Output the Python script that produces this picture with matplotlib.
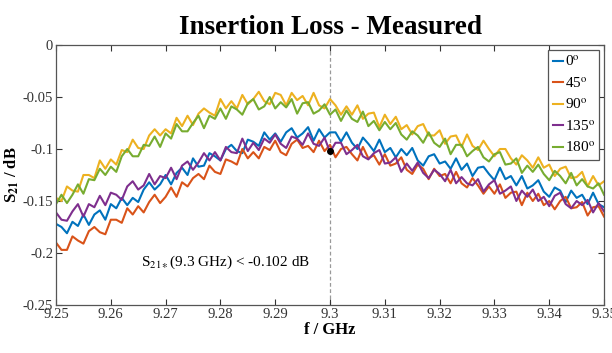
import numpy as np
import matplotlib
matplotlib.use("Agg")
import matplotlib.pyplot as plt

# frequency axis (GHz), one sample every 1 MHz
f_start, f_step, n_pts = 9.25, 0.001, 101

# S21 traces in milli-dB
s21_0_mdb = [-172,-175,-181,-170,-174,-163,-173,-163,-159,-168,
             -153,-157,-147,-154,-147,-151,-139,-132,-139,-134,
             -125,-134,-123,-118,-125,-109,-117,-116,-104,-107,
             -111,-100,-96,-102,-104,-91,-93,-97,-84,-91,
             -85,-93,-84,-80,-89,-85,-79,-92,-81,-89,
             -84,-84,-93,-84,-94,-100,-89,-95,-102,-91,
             -103,-99,-108,-100,-106,-99,-111,-116,-107,-105,
             -114,-112,-119,-109,-120,-114,-126,-118,-117,-124,
             -130,-118,-129,-126,-135,-126,-138,-135,-130,-141,
             -146,-137,-140,-151,-140,-147,-144,-153,-142,-153,
             -156]
s21_45_mdb = [-190,-197,-197,-184,-188,-191,-179,-175,-180,-182,
              -168,-168,-171,-157,-163,-155,-161,-151,-144,-152,
              -146,-137,-146,-132,-136,-128,-124,-129,-116,-122,
              -124,-110,-112,-115,-100,-109,-103,-109,-98,-101,
              -92,-103,-106,-95,-91,-99,-97,-103,-92,-102,
              -96,-108,-100,-98,-105,-111,-98,-109,-106,-115,
              -105,-116,-114,-108,-120,-124,-115,-119,-129,-119,
              -126,-124,-133,-122,-133,-137,-128,-135,-143,-136,
              -143,-134,-147,-142,-141,-154,-142,-150,-143,-154,
              -150,-158,-150,-146,-157,-156,-151,-164,-156,-155,
              -165]
s21_90_mdb = [-147,-150,-136,-140,-141,-125,-125,-128,-111,-119,
              -110,-115,-101,-103,-91,-99,-100,-87,-81,-87,
              -81,-85,-70,-78,-68,-77,-66,-61,-65,-68,
              -52,-61,-54,-61,-48,-57,-52,-45,-54,-57,
              -46,-48,-58,-46,-53,-49,-58,-46,-58,-61,
              -52,-58,-67,-59,-67,-58,-71,-66,-65,-79,
              -67,-76,-69,-81,-77,-86,-78,-76,-87,-87,
              -82,-95,-88,-87,-98,-86,-97,-101,-92,-100,
              -107,-100,-100,-109,-115,-106,-111,-118,-108,-118,
              -115,-126,-119,-117,-128,-127,-122,-136,-126,-135,
              -131]
s21_135_mdb = [-161,-168,-169,-160,-153,-165,-153,-156,-145,-154,
               -142,-144,-149,-136,-131,-139,-135,-124,-134,-126,
               -128,-118,-129,-116,-112,-120,-113,-104,-111,-103,
               -111,-98,-103,-104,-90,-102,-94,-101,-90,-94,
               -86,-95,-99,-88,-90,-96,-85,-95,-97,-89,
               -103,-94,-94,-105,-101,-96,-107,-110,-104,-101,
               -114,-113,-108,-122,-114,-121,-113,-123,-128,-120,
               -124,-131,-120,-133,-127,-133,-135,-129,-141,-134,
               -130,-143,-140,-136,-150,-140,-146,-139,-150,-146,
               -155,-145,-142,-153,-157,-150,-154,-149,-161,-152,
               -160]
s21_180_mdb = [-153,-144,-152,-144,-134,-143,-129,-130,-119,-125,
               -117,-122,-107,-100,-107,-107,-96,-97,-88,-98,
               -85,-90,-76,-83,-83,-75,-68,-80,-68,-71,
               -61,-71,-59,-62,-67,-56,-52,-62,-59,-50,
               -61,-55,-60,-52,-66,-56,-55,-66,-63,-57,
               -67,-62,-73,-63,-71,-74,-64,-78,-73,-82,
               -74,-81,-75,-86,-91,-83,-87,-94,-84,-94,
               -98,-90,-105,-96,-96,-107,-102,-98,-108,-112,
               -105,-103,-115,-114,-109,-123,-116,-122,-115,-124,
               -130,-121,-126,-133,-123,-135,-129,-136,-138,-133,
               -144]

labels = ["0$^{\\mathrm{o}}$", "45$^{\\mathrm{o}}$", "90$^{\\mathrm{o}}$",
          "135$^{\\mathrm{o}}$", "180$^{\\mathrm{o}}$"]
colors = ["#0072BD", "#D95319", "#EDB120", "#7E2F8E", "#77AC30"]

marker_f = 9.3
marker_s21 = -0.102
xticks = [9.25, 9.26, 9.27, 9.28, 9.29, 9.3, 9.31, 9.32, 9.33, 9.34, 9.35]
xticklabels = ["9.25", "9.26", "9.27", "9.28", "9.29", "9.3", "9.31", "9.32", "9.33", "9.34", "9.35"]
yticks = [0, -0.05, -0.1, -0.15, -0.2, -0.25]
yticklabels = ["0", "-0.05", "-0.1", "-0.15", "-0.2", "-0.25"]

plt.rcParams["font.family"] = ["Liberation Serif", "DejaVu Serif"]
plt.rcParams["mathtext.fontset"] = "stix"

freq = f_start + f_step * np.arange(n_pts)
series = [s21_0_mdb, s21_45_mdb, s21_90_mdb, s21_135_mdb, s21_180_mdb]

fig = plt.figure(figsize=(6.12, 3.53), dpi=100)
ax = fig.add_axes([0.0915, 0.136, 0.8955, 0.7365])

for vals, lab, col in zip(series, labels, colors):
    ax.plot(freq, np.array(vals) / 1000.0, color=col, lw=1.5, label=lab)

ax.axvline(marker_f, color="#999999", lw=0.9, ls=(0, (3, 2)), zorder=1)
ax.plot([marker_f], [marker_s21], "o", color="black", ms=4, zorder=5)

ax.text(9.2655, -0.209, "S$_{21\\ast}$(9.3 GHz) < -0.102 dB", fontsize=11,
        va="center", ha="left")

ax.set_xlim(9.25, 9.35)
ax.set_ylim(-0.25, 0)
ax.set_xticks(xticks)
ax.set_xticklabels(xticklabels)
ax.set_yticks(yticks)
ax.set_yticklabels(yticklabels)
ax.tick_params(direction="in", top=True, right=True, labelsize=10.5,
               length=4, width=0.8, color="#333333", labelcolor="#333333", pad=2)
for s in ax.spines.values():
    s.set_color("#555555")
    s.set_linewidth(0.9)

ax.set_xlabel("f / GHz", fontsize=12, fontweight="bold", labelpad=1)
ax.set_ylabel("S$_{\\mathbf{21}}$ / dB", fontsize=12, fontweight="bold", labelpad=1)
ax.set_title("Insertion Loss - Measured", fontsize=19.5, fontweight="bold", pad=8)

leg = ax.legend(loc="upper right", fontsize=11, handlelength=0.7, handletextpad=0.1,
                labelspacing=0.45, borderpad=0.3, borderaxespad=0.3, fancybox=False,
                edgecolor="#555555", framealpha=1)
leg.get_frame().set_linewidth(0.9)

fig.savefig("out.png", dpi=100)
